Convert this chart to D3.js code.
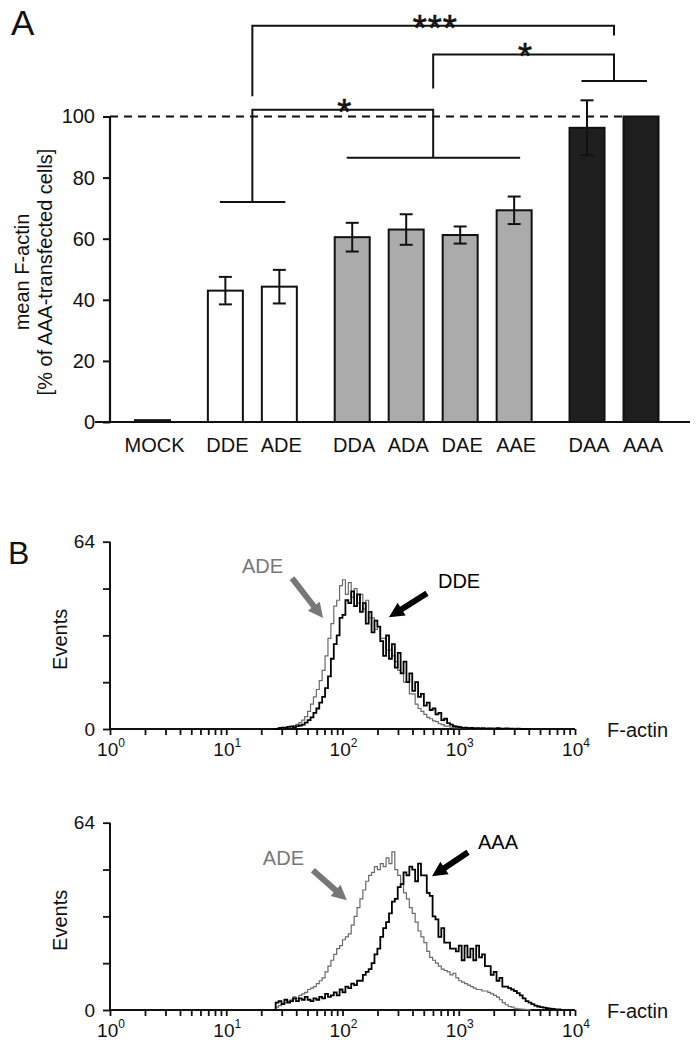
<!DOCTYPE html>
<html><head><meta charset="utf-8">
<script src="https://cdn.jsdelivr.net/npm/d3@7"></script>
<style>
body{margin:0;background:#fff}
svg{display:block}
text{font-family:"Liberation Sans",Arial,Helvetica,sans-serif;fill:#111}
</style>
</head><body>
<svg id="c" width="698" height="1052"></svg>
<script>
// ---------------- DATA ----------------
const categories = ["MOCK","DDE","ADE","DDA","ADA","DAE","AAE","DAA","AAA"];
const groupOf    = [0,1,1,2,2,2,2,3,3];
const meanValues = [0.6,43,44.3,60.5,63,61.2,69.3,96.3,100];
const errValues  = [0,4.5,5.5,4.7,5.0,2.8,4.5,9,0];
const groupFills = ["#ffffff","#ffffff","#ababab","#1f1f1f"];
const yTicksA    = [0,20,40,60,80,100];
// group underline levels (value units) and significance brackets
const groupLines = [{group:1,level:72},{group:2,level:86.5},{group:3,level:111.6}];
const brackets = [
  {from:1,to:2,top:102.2,leftFoot:72,rightFoot:86.5,label:"*"},
  {from:1,to:3,top:129.7,leftFoot:106.6,rightFoot:126.5,label:"***"},
  {from:2,to:3,top:120.3,leftFoot:109.2,rightFoot:111.6,label:"*"}
];

// histograms: log10(F-actin) bins starting at 10^1.40, step 0.025 decades
const histStartLog = 1.40, histStepLog = 0.025;
const topADE = [0,0,0.5,0.3,0.6,0.8,1.0,1.2,1.6,2.2,
 3.0,4.2,6.0,8.5,11,13.5,16.5,20,25,31,
 36,42,44,49,51,46,50,45,48,43,
 46,41,44,38,38,34,35,31,31,27,
 27,25,23,20,19,16,16,12,12,8.5,
 7,6,5,4,3.5,2.8,2.5,1.8,1.5,1.0,
 1.0,0.6,0.5,0.4,0.3,0.2,0.3,0.1,0.2,0.2,
 0.1,0.2,0.1,0.1,0.2,0.1,0.1,0.1,0.2,0.1,
 0.1,0.1,0,0,0,0,0,0,0];
const topDDE = [0,0,0.3,0.5,0.4,0.7,0.8,0.6,1.0,1.2,
 1.5,2.2,3.0,4.0,5.5,7,9,11,14,18,
 24,29,32,38,39,44,43,47,42,46,
 40,43,36,40,33,37,35,30,25,32,
 24,29,21,26,19,23,16,19,13,16,
 11,12,8,9,6.5,7,5,5.5,3,3.5,
 2,1.5,1.0,0.8,0.6,0.4,0.5,0.3,0.4,0.2,
 0.3,0.2,0.3,0.1,0.2,0.2,0.1,0.3,0.1,0.1,
 0.2,0.1,0.1,0,0.1,0,0,0,0];
const bottomADE = [0,1.0,1.5,2.0,2.5,3.0,3.5,4.5,4.0,5.0,
 5.5,6.0,7.0,7.5,8.0,9.0,10,11,13,15,
 17,19,21,22,24,25,26,29,32,35,
 38,41,44,46,47,49,48,50,49,52,
 50,54,48,46,43,40,38,35,33,30,
 27,25,23,20,18,17,16,15,14,13.5,
 13,12,12.5,11,10,9.5,9,8.5,8,7.5,
 7,7,6.5,6.5,6,5.5,5,4.4,3.5,2.5,
 1.8,1.2,1.0,0.6,0.4,0.3,0.2,0.1,0];
const bottomAAA = [0,2.5,3.0,2.0,3.5,2.5,3.0,4.0,3.0,4.0,
 3.5,4.5,3.5,3.0,4.0,3.5,4.5,4.0,5.5,4.5,
 5.0,6.0,5.0,7.0,6.0,8.0,7.5,9.0,8.5,10,
 10,12,13,14,16,19,21,25,28,30,
 33,37,38,42,43,47,46,49,48,44,
 50,46,46,40,39,32,31,25,28,23,
 23,21,21,20,22,17,22,18,21,17,
 22,18,19,15,15,12,13,10,11,8,
 8,7.5,7,6.5,5.8,5,4,3,2.5,2,
 1.5,1.2,1.0,0.8,0.6,0.5,0.4,0.2,0.2];
const yTicksB = [0,16,32,48,64];
const decades = [0,1,2,3,4];

// ---------------- PANEL A ----------------
const svg = d3.select("#c");
const FONT = 20;

svg.append("text").attr("x",11).attr("y",35).attr("font-size",35).text("A");

const slot = categories.map((c,i)=> i + groupOf[i]*0.35);
const xA = d3.scaleLinear().domain([0, slot[slot.length-1]]).range([152.5, 641]);
const yA = d3.scaleLinear().domain([0,100]).range([422,116.5]);
const barW = 35;
const cx = i => xA(slot[i]);

const gA = svg.append("g");

// y axis
const yAxisA = d3.axisLeft(yA).tickValues(yTicksA).tickSize(7).tickPadding(8).tickFormat(d3.format("d"));
const gy = gA.append("g").attr("transform","translate(110,0)").call(yAxisA);
gy.select(".domain").attr("d",`M0,${yA(0)}V${yA(100)}`).attr("stroke","#111").attr("stroke-width",2.2);
gy.selectAll(".tick line").attr("stroke","#111").attr("stroke-width",2);
gy.selectAll(".tick text").attr("font-size",FONT).attr("fill","#111").attr("font-family",null);

// x axis baseline
gA.append("line").attr("x1",95).attr("x2",690).attr("y1",yA(0)).attr("y2",yA(0))
  .attr("stroke","#111").attr("stroke-width",2.2);

// dashed 100% line
gA.append("line").attr("x1",110).attr("x2",cx(8)-barW/2).attr("y1",yA(100)).attr("y2",yA(100))
  .attr("stroke","#111").attr("stroke-width",2).attr("stroke-dasharray","8,6");

// bars
gA.selectAll("rect.bar").data(meanValues).join("rect").attr("class","bar")
  .attr("x",(d,i)=>cx(i)-barW/2).attr("width",barW)
  .attr("y",d=>yA(d)).attr("height",d=>yA(0)-yA(d))
  .attr("fill",(d,i)=>groupFills[groupOf[i]]).attr("stroke","#111").attr("stroke-width",2);

// error bars
meanValues.forEach((m,i)=>{
  const e = errValues[i]; if(!e) return;
  const g = gA.append("g").attr("stroke","#111").attr("stroke-width",2);
  g.append("line").attr("x1",cx(i)).attr("x2",cx(i)).attr("y1",yA(m-e)).attr("y2",yA(m+e));
  [m-e,m+e].forEach(v=>g.append("line").attr("x1",cx(i)-6.5).attr("x2",cx(i)+6.5).attr("y1",yA(v)).attr("y2",yA(v)));
});

// category labels
gA.selectAll("text.cat").data(categories).join("text").attr("class","cat")
  .attr("x",(d,i)=>cx(i)+2).attr("y",452).attr("text-anchor","middle").attr("font-size",FONT).text(d=>d);

// y title
const yt = gA.append("g").attr("transform","translate(0,272)");
yt.append("text").attr("transform","translate(29,0) rotate(-90)").attr("text-anchor","middle")
  .attr("font-size",FONT).text("mean F-actin");
yt.append("text").attr("transform","translate(52,0) rotate(-90)").attr("text-anchor","middle")
  .attr("font-size",FONT).text("[% of AAA-transfected cells]");

// group underlines + brackets
const idxOfGroup = g => categories.map((c,i)=>i).filter(i=>groupOf[i]===g);
const groupMid = g => { const ix = idxOfGroup(g); return (cx(ix[0])+cx(ix[ix.length-1]))/2; };
const bg = gA.append("g").attr("stroke","#111").attr("stroke-width",2).attr("fill","none");
groupLines.forEach(gl=>{
  const ix = idxOfGroup(gl.group);
  bg.append("line").attr("x1",cx(ix[0])-5.5).attr("x2",cx(ix[ix.length-1])+6)
    .attr("y1",yA(gl.level)).attr("y2",yA(gl.level));
});
brackets.forEach(b=>{
  const xl = groupMid(b.from), xr = groupMid(b.to);
  bg.append("path").attr("d",`M${xl},${yA(b.leftFoot)}V${yA(b.top)}H${xr}V${yA(b.rightFoot)}`);
  gA.append("text").attr("x",(xl+xr)/2+2).attr("y",yA(b.top)+15).attr("text-anchor","middle")
    .attr("font-size",36).attr("letter-spacing",1).attr("stroke","#111").attr("stroke-width",0.6).text(b.label);
});

// ---------------- PANEL B ----------------
svg.append("text").attr("x",8).attr("y",564).attr("font-size",32).text("B");

function arrowPath(tail, tip){
  const dx = tip[0]-tail[0], dy = tip[1]-tail[1];
  const L = Math.hypot(dx,dy), ux = dx/L, uy = dy/L, nx = -uy, ny = ux;
  const hl = 15, hw = 7.5, sw = 3;
  const bx = tip[0]-ux*hl, by = tip[1]-uy*hl;
  const p = [
    [tail[0]+nx*sw, tail[1]+ny*sw],[bx+nx*sw, by+ny*sw],[bx+nx*hw, by+ny*hw],
    tip,[bx-nx*hw, by-ny*hw],[bx-nx*sw, by-ny*sw],[tail[0]-nx*sw, tail[1]-ny*sw]];
  return "M"+p.map(q=>q.join(",")).join("L")+"Z";
}

function histPanel(yBase, yTop, grayData, blackData, ann){
  const x = d3.scaleLog().domain([1,1e4]).range([110,575]);
  const y = d3.scaleLinear().domain([0,64]).range([yBase,yTop]);
  const g = svg.append("g");

  // x axis
  const xt = [];
  decades.slice(0,4).forEach(d=>{ for(let m=1;m<10;m++) xt.push(m*Math.pow(10,d)); });
  xt.push(1e4);
  const gx = g.append("g").attr("transform",`translate(0,${yBase})`)
    .call(d3.axisBottom(x).tickValues(xt).tickSize(6).tickFormat(""));
  gx.select(".domain").attr("d",`M110,0H575`).attr("stroke","#111").attr("stroke-width",2);
  gx.selectAll(".tick line").attr("stroke","#111").attr("stroke-width",1.8);
  decades.forEach(d=>{
    const t = g.append("text").attr("x",x(Math.pow(10,d))+1).attr("y",yBase+27)
      .attr("text-anchor","middle").attr("font-size",19);
    t.append("tspan").text("10");
    t.append("tspan").attr("dy",-9).attr("font-size",12).text(d);
  });
  g.append("text").attr("x",607).attr("y",yBase+8).attr("font-size",FONT).text("F-actin");

  // y axis
  const gyB = g.append("g").attr("transform","translate(110,0)")
    .call(d3.axisLeft(y).tickValues(yTicksB).tickSize(7).tickPadding(8)
      .tickFormat(d=> (d===0||d===64)? d : ""));
  gyB.select(".domain").attr("d",`M0,${yBase}V${yTop}`).attr("stroke","#111").attr("stroke-width",2);
  gyB.selectAll(".tick line").attr("stroke","#111").attr("stroke-width",1.8);
  gyB.selectAll(".tick text").attr("font-size",19).attr("fill","#111").attr("font-family",null);
  g.append("text").attr("transform",`translate(67,${(yBase+yTop)/2+4}) rotate(-90)`)
    .attr("text-anchor","middle").attr("font-size",FONT).text("Events");

  // histograms
  const toPts = arr => {
    const pts = arr.map((v,i)=>[Math.pow(10,histStartLog+i*histStepLog), v]);
    pts.push([Math.pow(10,histStartLog+arr.length*histStepLog), 0]);
    return pts;
  };
  const line = d3.line().x(d=>x(d[0])).y(d=>y(d[1])).curve(d3.curveStepAfter);
  g.append("path").attr("d",line(toPts(grayData))).attr("fill","none")
    .attr("stroke","#6a6a6a").attr("stroke-width",1.2);
  g.append("path").attr("d",line(toPts(blackData))).attr("fill","none")
    .attr("stroke","#000").attr("stroke-width",1.8);

  // annotations
  ann.forEach(a=>{
    const tip = [x(a.tipValue), y(a.tipCount)];
    const tail = [tip[0]+a.tail[0], tip[1]+a.tail[1]];
    g.append("path").attr("d",arrowPath(tail,tip)).attr("fill",a.color).attr("stroke","none");
    g.append("text").attr("x",tip[0]+a.text[0]).attr("y",tip[1]+a.text[1])
      .attr("font-size",FONT).style("fill",a.color).text(a.label);
  });
}

histPanel(729, 541.7, topADE, topDDE, [
  {label:"ADE", color:"#777777", tipValue:68, tipCount:37.9, tail:[-31,-40], text:[-81,-45]},
  {label:"DDE", color:"#000000", tipValue:251, tipCount:38.2, tail:[38,-24], text:[49,-29]}
]);
histPanel(1010, 822.7, bottomADE, bottomAAA, [
  {label:"ADE", color:"#777777", tipValue:109, tipCount:37.5, tail:[-34,-30], text:[-84,-35]},
  {label:"AAA", color:"#000000", tipValue:589, tipCount:45.7, tail:[36,-24], text:[46,-27]}
]);
</script>
</body></html>
